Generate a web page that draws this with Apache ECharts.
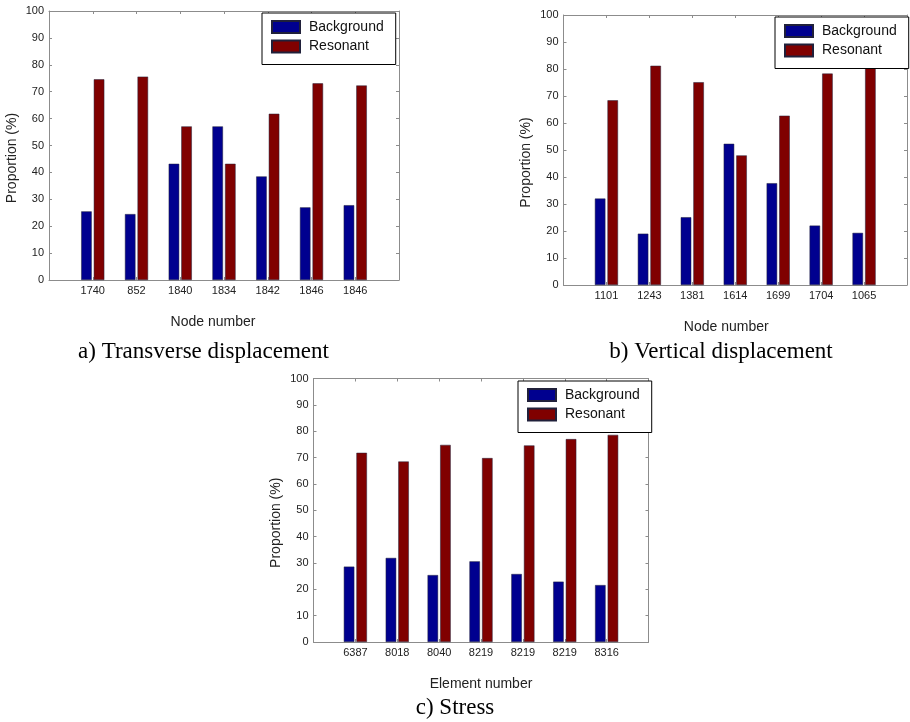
<!DOCTYPE html>
<html>
<head>
<meta charset="utf-8">
<script src="https://cdn.jsdelivr.net/npm/echarts@6/dist/echarts.min.js"></script>
<style>
  html, body { margin: 0; padding: 0; background: #fff; }
  #chart { width: 910px; height: 722px; }
</style>
</head>
<body>
<div id="chart"></div>
<script>
// Node / element labels for each panel
const transverseNodes = ['1740', '852', '1840', '1834', '1842', '1846', '1846'];
const verticalNodes = ['1101', '1243', '1381', '1614', '1699', '1704', '1065'];
const stressElements = ['6387', '8018', '8040', '8219', '8219', '8219', '8316'];

// Proportions (%) of background and resonant response
const transverseBackground = [25.5, 24.5, 43.2, 57.1, 38.5, 27.0, 27.8];
const transverseResonant = [74.6, 75.6, 57.1, 43.2, 61.8, 73.1, 72.3];
const verticalBackground = [32.0, 19.0, 25.1, 52.3, 37.7, 22.0, 19.3];
const verticalResonant = [68.4, 81.2, 75.1, 48.0, 62.7, 78.3, 80.8];
const stressBackground = [28.6, 31.9, 25.4, 30.6, 25.8, 22.9, 21.6];
const stressResonant = [71.8, 68.5, 74.8, 69.8, 74.6, 77.0, 78.6];

const yTicks = [0, 10, 20, 30, 40, 50, 60, 70, 80, 90, 100];

const panelCaptions = ['a) Transverse displacement', 'b) Vertical displacement', 'c) Stress'];
const xAxisTitles = ['Node number', 'Node number', 'Element number'];
const yAxisTitle = 'Proportion (%)';
const seriesNames = ['Background', 'Resonant'];

const BLUE = '#00008f';
const RED = '#800000';
const FRAME = '#8c8c8c';
const SANS = '"Liberation Sans", Arial, Helvetica, sans-serif';
const SERIF = '"Liberation Serif", "Times New Roman", serif';

const panels = [
  { cats: transverseNodes, bg: transverseBackground, rs: transverseResonant,
    grid: { left: 49, top: 11, width: 350, height: 269 },
    legend: { left: 262, top: 13 }, xNameShift: 22 },
  { cats: verticalNodes, bg: verticalBackground, rs: verticalResonant,
    grid: { left: 563.5, top: 15, width: 345, height: 270 },
    legend: { left: 775, top: 17 }, xNameShift: 18 },
  { cats: stressElements, bg: stressBackground, rs: stressResonant,
    grid: { left: 313.5, top: 378.5, width: 335, height: 263.5 },
    legend: { left: 518, top: 381 }, xNameShift: 0 }
];

const grid = [], xAxis = [], yAxis = [], series = [], legend = [];

panels.forEach((p, i) => {
  grid.push(Object.assign({ containLabel: false }, p.grid));
  const tickStyle = { show: true, inside: true, length: 3, lineStyle: { color: FRAME } };
  const lineStyle = { show: true, onZero: false, lineStyle: { color: FRAME, width: 1 } };
  // bottom axis carries the labels, top axis closes the box
  xAxis.push({
    type: 'value', gridIndex: i, position: 'bottom', min: 0, max: 8, interval: 1,
    axisLine: lineStyle, axisTick: tickStyle, splitLine: { show: false },
    axisLabel: {
      fontFamily: SANS, fontSize: 11, color: '#222', margin: 5,
      formatter: v => p.cats[v - 1] || ''
    },
    name: xAxisTitles[i], nameLocation: 'middle', nameGap: 35,
    nameTextStyle: { fontFamily: SANS, fontSize: 14, color: '#222',
      padding: [0, p.xNameShift, 0, 0] }
  });
  xAxis.push({
    type: 'value', gridIndex: i, position: 'top', min: 0, max: 8, interval: 1,
    axisLine: lineStyle, axisTick: tickStyle, splitLine: { show: false },
    axisLabel: { show: false }
  });
  yAxis.push({
    type: 'value', gridIndex: i, position: 'left', min: yTicks[0],
    max: yTicks[yTicks.length - 1], interval: 10,
    axisLine: lineStyle, axisTick: tickStyle, splitLine: { show: false },
    axisLabel: { fontFamily: SANS, fontSize: 11, color: '#222', margin: 5 },
    name: yAxisTitle, nameLocation: 'middle', nameGap: 30, nameRotate: 90,
    nameTextStyle: { fontFamily: SANS, fontSize: 14, color: '#222',
      padding: [0, 25, 0, 0] }
  });
  yAxis.push({
    type: 'value', gridIndex: i, position: 'right', min: 0, max: 100, interval: 10,
    axisLine: lineStyle, axisTick: tickStyle, splitLine: { show: false },
    axisLabel: { show: false }
  });

  const xi = i * 2, yi = i * 2;
  [p.bg, p.rs].forEach((vals, k) => {
    series.push({
      type: 'bar', name: seriesNames[k], xAxisIndex: xi, yAxisIndex: yi,
      barWidth: 10.5, barGap: '20%',
      itemStyle: { color: k === 0 ? BLUE : RED, borderColor: '#20203a', borderWidth: 0.5 },
      data: vals.map((v, j) => [j + 1, v]),
      silent: true
    });
  });

  legend.push({
    left: p.legend.left, top: p.legend.top, orient: 'vertical',
    data: seriesNames, icon: 'rect', itemWidth: 28, itemHeight: 12, itemGap: 5.5,
    padding: [7, 12, 11, 9], borderColor: '#000', borderWidth: 1,
    backgroundColor: '#fff', selectedMode: false,
    textStyle: { fontFamily: SANS, fontSize: 14, color: '#111', lineHeight: 12,
      padding: [0, 0, 0, 4] }
  });
});

const captionPos = [[203.5, 352], [721, 352], [455, 708]];
const graphic = panelCaptions.map((t, i) => ({
  type: 'text', x: captionPos[i][0], y: captionPos[i][1], silent: true,
  style: { text: t, font: '23px ' + SERIF, fill: '#000',
    textAlign: 'center', textVerticalAlign: 'middle' }
}));

const chart = echarts.init(document.getElementById('chart'), null, { renderer: 'canvas' });
chart.setOption({
  backgroundColor: '#fff',
  animation: false,
  grid, xAxis, yAxis, series, legend, graphic
});
</script>
</body>
</html>
